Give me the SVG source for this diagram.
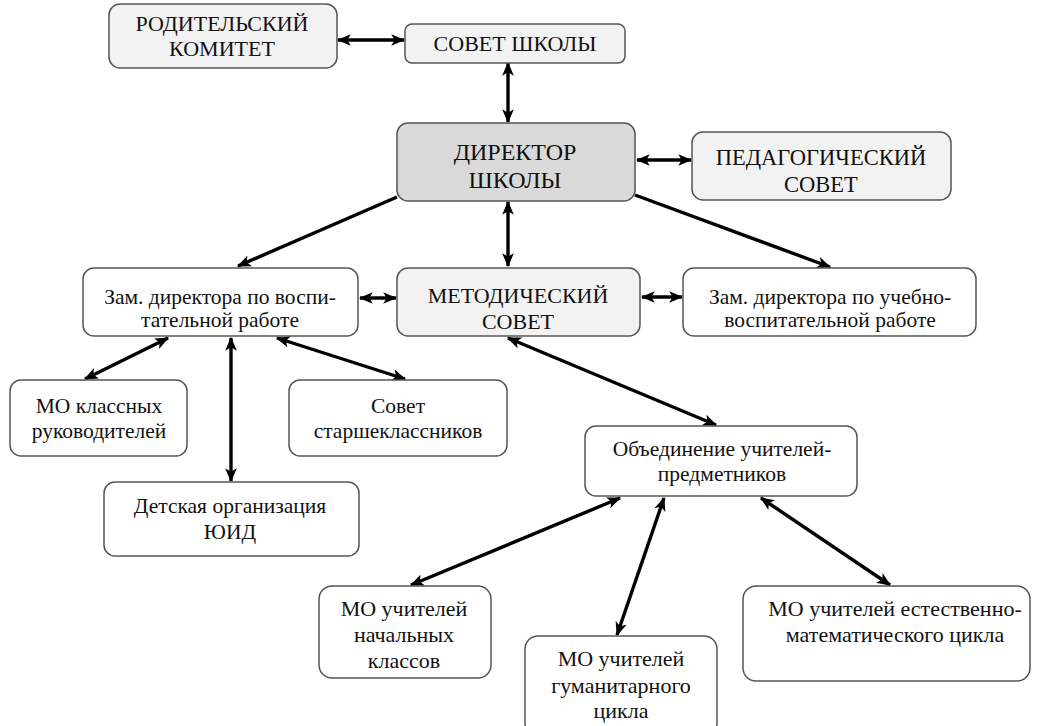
<svg xmlns="http://www.w3.org/2000/svg" width="1040" height="726" viewBox="0 0 1040 726">
<defs>
<marker id="ah" viewBox="0 0 12 10" refX="11" refY="5" markerWidth="14" markerHeight="12" markerUnits="userSpaceOnUse" orient="auto-start-reverse">
<path d="M0,0 L12,5 L0,10 L3,5 z" fill="#000"/>
</marker>
</defs>
<style>
.box{stroke:#555;stroke-width:1.5;fill:#fff}
.lt{fill:#f2f2f2}
.dk{fill:#d9d9d9}
.ln{stroke:#000;stroke-width:3.4;fill:none;marker-end:url(#ah)}
.bi{marker-start:url(#ah)}
</style>
<rect width="1040" height="726" fill="#fff"/>
<g id="connectors">
<line class="ln bi" x1="338" y1="40" x2="404" y2="40"/>
<line class="ln bi" x1="508" y1="63" x2="508" y2="122"/>
<line class="ln bi" x1="637" y1="160" x2="691" y2="160"/>
<line class="ln" x1="397" y1="197" x2="238" y2="266"/>
<line class="ln bi" x1="508" y1="202" x2="508" y2="266"/>
<line class="ln" x1="635" y1="195" x2="830" y2="267"/>
<line class="ln bi" x1="360" y1="298" x2="396" y2="298"/>
<line class="ln bi" x1="642" y1="297" x2="682" y2="297"/>
<line class="ln bi" x1="168" y1="338" x2="85" y2="379"/>
<line class="ln bi" x1="231" y1="338" x2="231" y2="481"/>
<line class="ln bi" x1="277" y1="338" x2="405" y2="379"/>
<line class="ln bi" x1="508" y1="338" x2="716" y2="425"/>
<line class="ln bi" x1="620" y1="498" x2="411" y2="585"/>
<line class="ln bi" x1="664" y1="498" x2="617" y2="635"/>
<line class="ln bi" x1="761" y1="498" x2="890" y2="585"/>
</g>
<g id="n-roditel">
<rect class="box lt" x="109" y="4" width="228" height="64" rx="11"/>
<text font-family="Liberation Serif" font-size="22" fill="#111" text-anchor="middle" x="222" y="31">РОДИТЕЛЬСКИЙ</text>
<text font-family="Liberation Serif" font-size="22" fill="#111" text-anchor="middle" x="222" y="56">КОМИТЕТ</text>
</g>
<g id="n-sovet-shkoly">
<rect class="box lt" x="405" y="24" width="220" height="39" rx="7"/>
<text font-family="Liberation Serif" font-size="22" fill="#111" text-anchor="middle" x="515" y="51">СОВЕТ ШКОЛЫ</text>
</g>
<g id="n-director">
<rect class="box dk" x="397" y="123" width="238" height="78" rx="11"/>
<text font-family="Liberation Serif" font-size="24" fill="#111" text-anchor="middle" x="515" y="160">ДИРЕКТОР</text>
<text font-family="Liberation Serif" font-size="24" fill="#111" text-anchor="middle" x="515" y="188">ШКОЛЫ</text>
</g>
<g id="n-ped">
<rect class="box lt" x="692" y="132" width="259" height="68" rx="11"/>
<text font-family="Liberation Serif" font-size="22.5" fill="#111" text-anchor="middle" x="821" y="165">ПЕДАГОГИЧЕСКИЙ</text>
<text font-family="Liberation Serif" font-size="22.5" fill="#111" text-anchor="middle" x="821" y="192">СОВЕТ</text>
</g>
<g id="n-zam-vosp">
<rect class="box" x="83" y="268" width="275" height="68" rx="11"/>
<text font-family="Liberation Serif" font-size="21.5" fill="#111" text-anchor="middle" x="220" y="304">Зам. директора по воспи-</text>
<text font-family="Liberation Serif" font-size="21.5" fill="#111" text-anchor="middle" x="220" y="327">тательной работе</text>
</g>
<g id="n-metod">
<rect class="box lt" x="397" y="268" width="243" height="68" rx="11"/>
<text font-family="Liberation Serif" font-size="22" fill="#111" text-anchor="middle" x="518" y="303">МЕТОДИЧЕСКИЙ</text>
<text font-family="Liberation Serif" font-size="22" fill="#111" text-anchor="middle" x="518" y="329">СОВЕТ</text>
</g>
<g id="n-zam-ucheb">
<rect class="box" x="683" y="268" width="293" height="68" rx="11"/>
<text font-family="Liberation Serif" font-size="21.5" fill="#111" text-anchor="middle" x="830" y="304">Зам. директора по учебно-</text>
<text font-family="Liberation Serif" font-size="21.5" fill="#111" text-anchor="middle" x="830" y="327">воспитательной работе</text>
</g>
<g id="n-mo-klass">
<rect class="box" x="10" y="380" width="177" height="76" rx="11"/>
<text font-family="Liberation Serif" font-size="21.5" fill="#111" text-anchor="middle" x="99" y="413">МО классных</text>
<text font-family="Liberation Serif" font-size="21.5" fill="#111" text-anchor="middle" x="99" y="438">руководителей</text>
</g>
<g id="n-sovet-starsh">
<rect class="box" x="289" y="380" width="218" height="76" rx="11"/>
<text font-family="Liberation Serif" font-size="21.5" fill="#111" text-anchor="middle" x="398" y="413">Совет</text>
<text font-family="Liberation Serif" font-size="21.5" fill="#111" text-anchor="middle" x="398" y="438">старшеклассников</text>
</g>
<g id="n-uid">
<rect class="box" x="104" y="482" width="255" height="74" rx="11"/>
<text font-family="Liberation Serif" font-size="21.5" fill="#111" text-anchor="middle" x="230" y="513">Детская организация</text>
<text font-family="Liberation Serif" font-size="21.5" fill="#111" text-anchor="middle" x="230" y="539">ЮИД</text>
</g>
<g id="n-obed">
<rect class="box" x="585" y="426" width="272" height="70" rx="11"/>
<text font-family="Liberation Serif" font-size="21.5" fill="#111" text-anchor="middle" x="722" y="456">Объединение учителей-</text>
<text font-family="Liberation Serif" font-size="21.5" fill="#111" text-anchor="middle" x="722" y="481">предметников</text>
</g>
<g id="n-mo-nach">
<rect class="box" x="319" y="586" width="172" height="92" rx="13"/>
<text font-family="Liberation Serif" font-size="22" fill="#111" text-anchor="middle" x="404" y="616">МО учителей</text>
<text font-family="Liberation Serif" font-size="22" fill="#111" text-anchor="middle" x="404" y="642">начальных</text>
<text font-family="Liberation Serif" font-size="22" fill="#111" text-anchor="middle" x="404" y="668">классов</text>
</g>
<g id="n-mo-gum">
<rect class="box" x="525" y="636" width="192" height="100" rx="13"/>
<text font-family="Liberation Serif" font-size="22" fill="#111" text-anchor="middle" x="621" y="666">МО учителей</text>
<text font-family="Liberation Serif" font-size="22" fill="#111" text-anchor="middle" x="621" y="693">гуманитарного</text>
<text font-family="Liberation Serif" font-size="22" fill="#111" text-anchor="middle" x="621" y="718">цикла</text>
</g>
<g id="n-mo-est">
<rect class="box" x="743" y="586" width="287" height="95" rx="13"/>
<text font-family="Liberation Serif" font-size="22" fill="#111" text-anchor="middle" x="895" y="616">МО учителей естественно-</text>
<text font-family="Liberation Serif" font-size="22" fill="#111" text-anchor="middle" x="895" y="642">математического цикла</text>
</g>
</svg>
